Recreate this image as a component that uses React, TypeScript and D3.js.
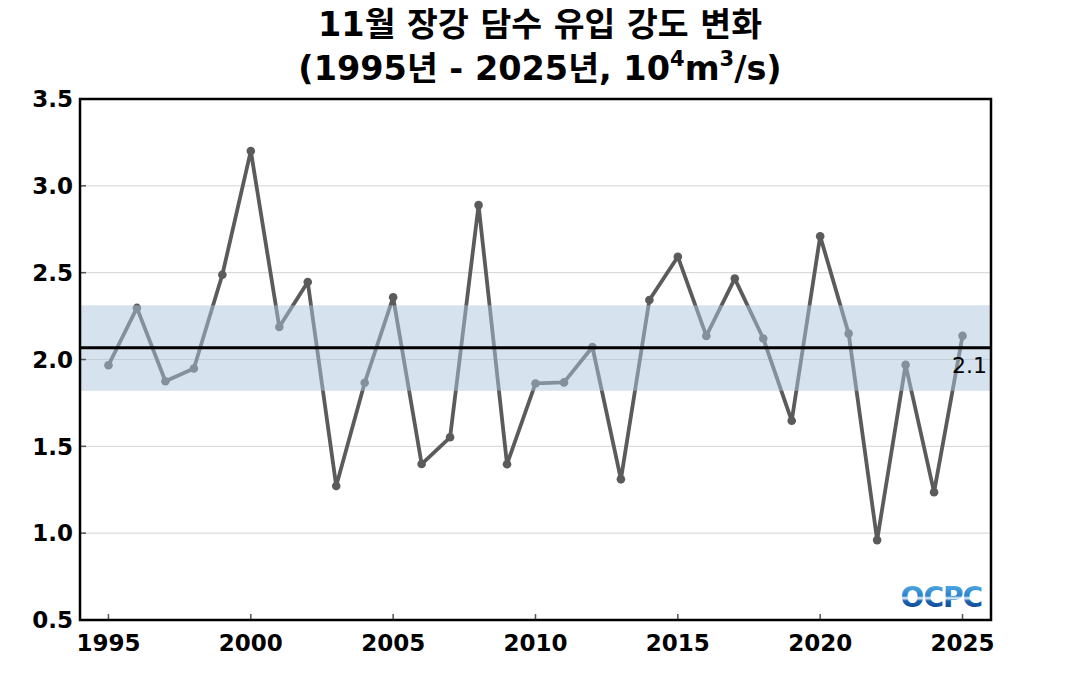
import React from "react";
import * as d3 from "d3";

const years: number[] = d3.range(1995, 2026);
const values: number[] = [
  1.967, 2.297, 1.875, 1.948, 2.488, 3.201, 2.187, 2.446, 1.272, 1.866,
  2.358, 1.398, 1.552, 2.889, 1.397, 1.862, 1.868, 2.072, 1.31, 2.343,
  2.592, 2.136, 2.466, 2.121, 1.647, 2.71, 2.149, 0.96, 1.969, 1.236,
  2.136,
];
const meanValue = 2.067;
const bandLower = 1.82;
const bandUpper = 2.312;
const meanLabel = "2.1";
const xTicks: number[] = [1995, 2000, 2005, 2010, 2015, 2020, 2025];
const yTicks: number[] = [0.5, 1.0, 1.5, 2.0, 2.5, 3.0, 3.5];
const titleLine1 = "11월 장강 담수 유입 강도 변화";

const W = 1070;
const H = 700;
const left = 80;
const right = 991;
const top = 99;
const bottom = 620;

export default function App() {
  const x = d3.scaleLinear().domain([1994, 2026]).range([left, right]);
  const y = d3.scaleLinear().domain([0.5, 3.5]).range([bottom, top]);
  const data = years.map((yr, i) => ({ yr, v: values[i] }));
  const line = d3
    .line<{ yr: number; v: number }>()
    .x((d) => x(d.yr))
    .y((d) => y(d.v));
  const lineColor = "#5b5b5b";
  const font = "'DejaVu Sans', 'Noto Sans CJK KR', sans-serif";

  return (
    <svg
      width={W}
      height={H}
      style={{ position: "absolute", left: 0, top: 0, background: "#fff" }}
      fontFamily={font}
    >
      <defs>
        <linearGradient id="logoGrad" x1="0" y1="0" x2="0" y2="1">
          <stop offset="0%" stopColor="#5fb6e8" />
          <stop offset="45%" stopColor="#2a83cc" />
          <stop offset="52%" stopColor="#e8f4fb" />
          <stop offset="60%" stopColor="#1b63b3" />
          <stop offset="100%" stopColor="#08357f" />
        </linearGradient>
      </defs>
      {/* title */}
      <text x={540} y={36} textAnchor="middle" fontSize={33.5} fontWeight="bold" fill="#000">
        {titleLine1}
      </text>
      <text x={540} y={80} textAnchor="middle" fontSize={33.5} fontWeight="bold" fill="#000">
        (1995년 - 2025년, 10
        <tspan fontSize={21} dy={-14}>4</tspan>
        <tspan dy={14}>m</tspan>
        <tspan fontSize={21} dy={-14}>3</tspan>
        <tspan dy={14}>/s)</tspan>
      </text>

      {/* gridlines */}
      {yTicks.slice(1, -1).map((t) => (
        <line key={t} x1={left} x2={right} y1={y(t)} y2={y(t)} stroke="#d4d4d4" strokeWidth={1} />
      ))}

      {/* series */}
      <path d={line(data) || ""} fill="none" stroke={lineColor} strokeWidth={3.8} strokeLinejoin="round" />
      {data.map((d) => (
        <circle key={d.yr} cx={x(d.yr)} cy={y(d.v)} r={4.3} fill={lineColor} />
      ))}

      {/* band */}
      <rect
        x={left}
        width={right - left}
        y={y(bandUpper)}
        height={y(bandLower) - y(bandUpper)}
        fill="rgb(173,197,221)"
        fillOpacity={0.5}
      />
      {/* mean line */}
      <line x1={left} x2={right} y1={y(meanValue)} y2={y(meanValue)} stroke="#000" strokeWidth={3} />
      <text x={987} y={373} textAnchor="end" fontSize={22} fill="#000">
        {meanLabel}
      </text>

      {/* ticks */}
      {xTicks.map((t) => (
        <g key={t}>
          <line x1={x(t)} x2={x(t)} y1={bottom} y2={bottom - 6} stroke="#555" strokeWidth={1.5} />
          <text x={x(t)} y={651} textAnchor="middle" fontSize={23} fontWeight="bold" fill="#000">
            {t}
          </text>
        </g>
      ))}
      {yTicks.map((t) => (
        <g key={t}>
          <line x1={left} x2={left + 6} y1={y(t)} y2={y(t)} stroke="#555" strokeWidth={1.5} />
          <text x={73} y={y(t)} dy="0.36em" textAnchor="end" fontSize={23} fontWeight="bold" fill="#000">
            {t.toFixed(1)}
          </text>
        </g>
      ))}

      {/* logo */}
      <text x={982} y={607} textAnchor="end" fontSize={28} fontWeight="bold" fill="url(#logoGrad)" letterSpacing={-1}>
        OCPC
      </text>

      {/* frame */}
      <rect x={left} y={top} width={right - left} height={bottom - top} fill="none" stroke="#000" strokeWidth={2.5} />
    </svg>
  );
}
